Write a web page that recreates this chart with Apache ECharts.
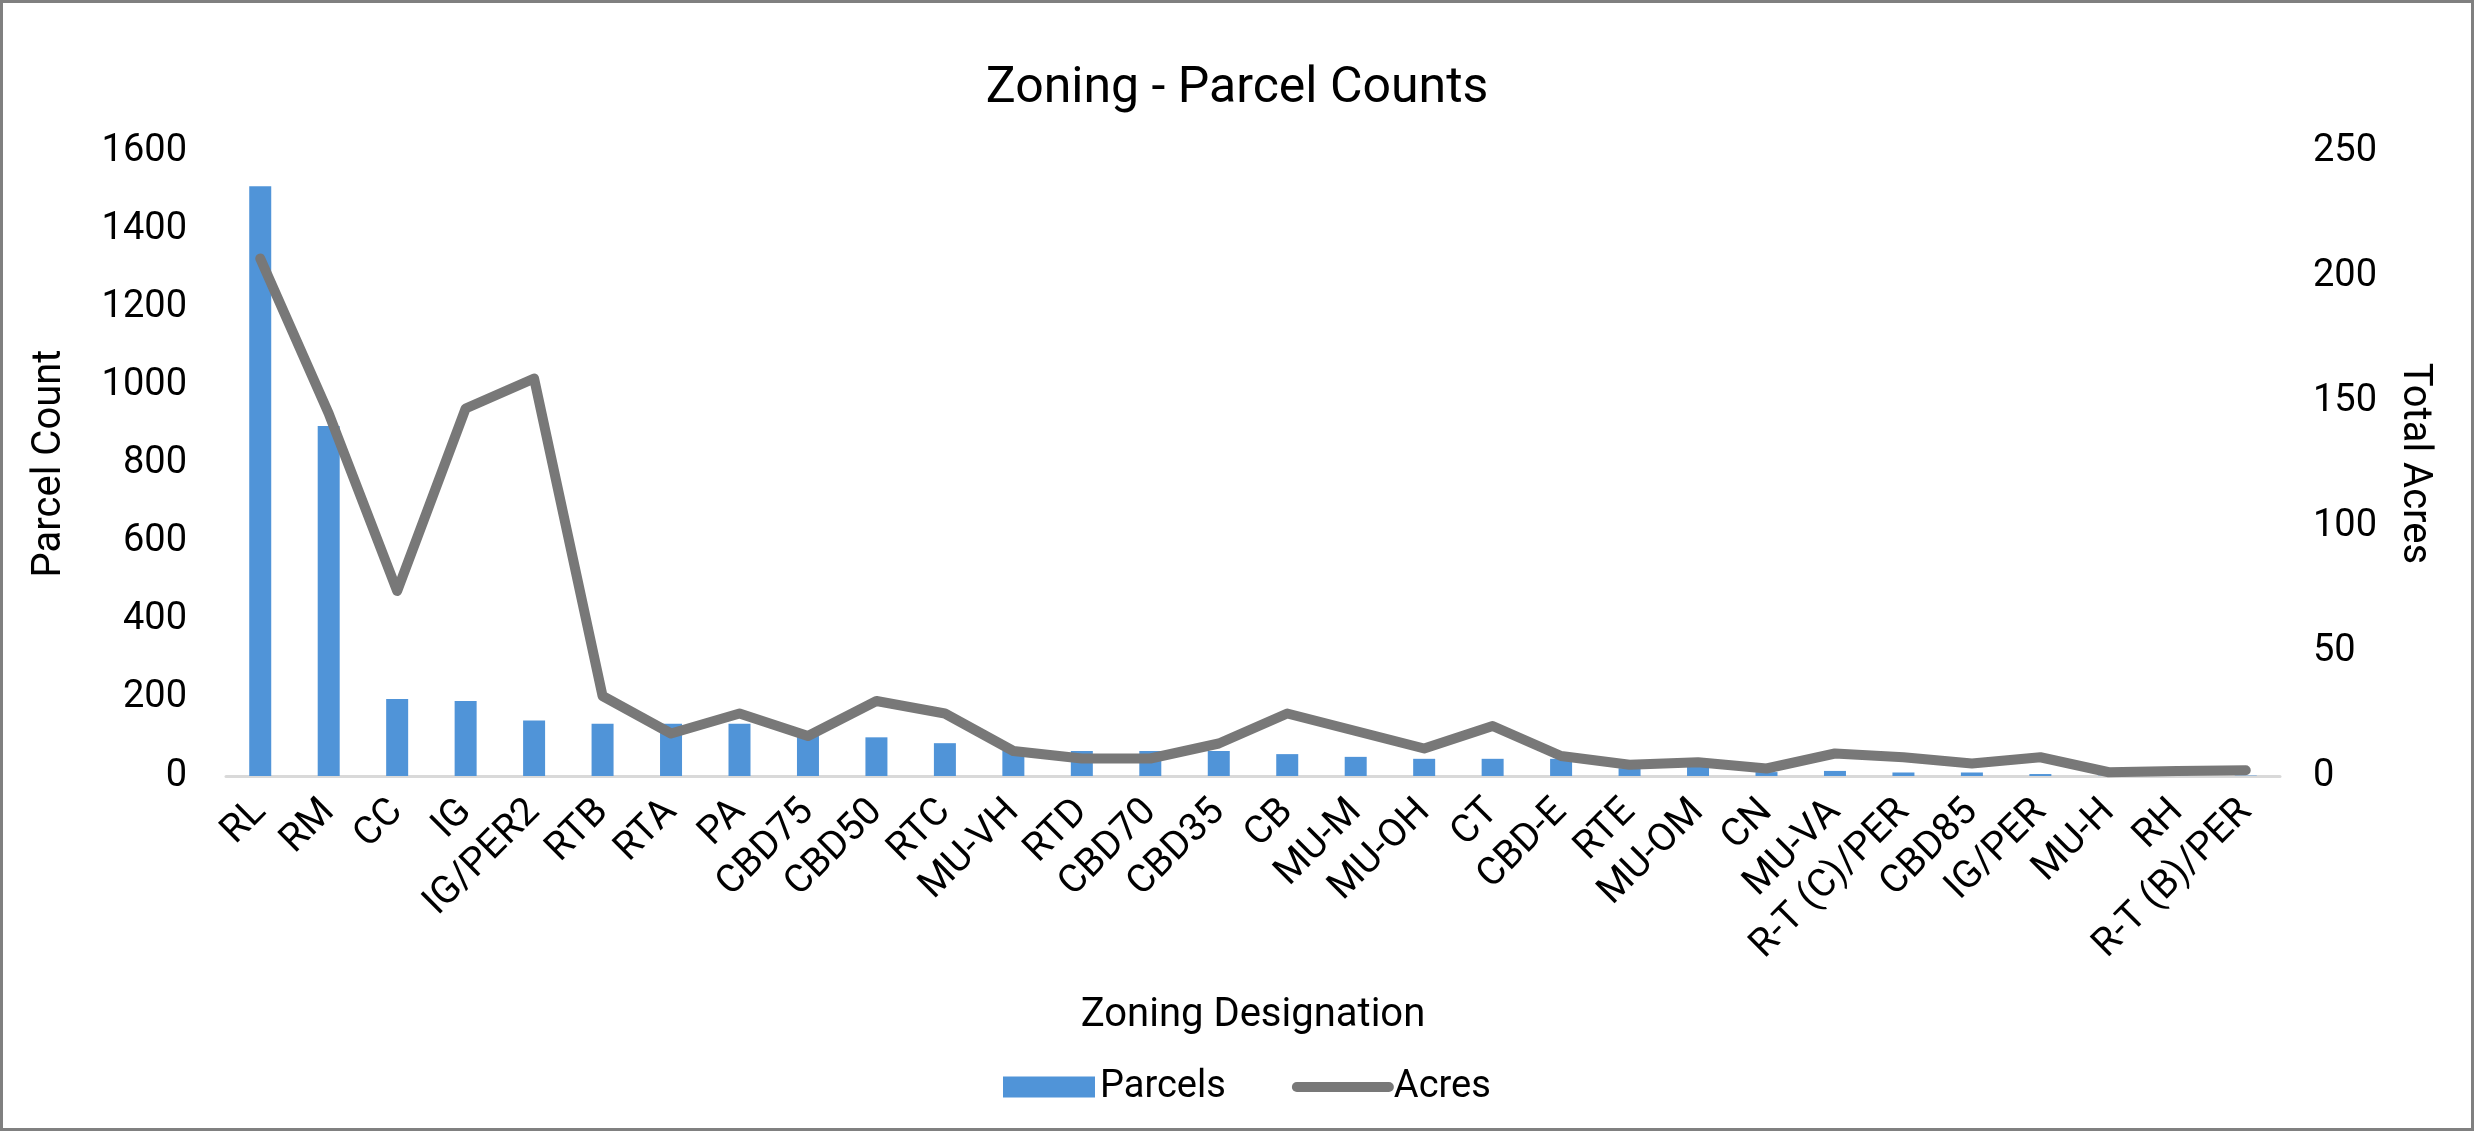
<!DOCTYPE html>
<html>
<head>
<meta charset="utf-8">
<script src="https://cdn.jsdelivr.net/npm/echarts@6/dist/echarts.min.js"></script>
<style>
html,body{margin:0;padding:0;background:#fff;}
#wrap{position:relative;width:2474px;height:1131px;}
#chart{position:absolute;left:0;top:0;width:2474px;height:1131px;}
#frame{position:absolute;left:0;top:0;width:2474px;height:1131px;box-sizing:border-box;border:3px solid #808080;pointer-events:none;}
</style>
</head>
<body>
<div id="wrap"><div id="chart"></div><div id="frame"></div></div>
<script>
const categories = ['RL','RM','CC','IG','IG/PER2','RTB','RTA','PA','CBD75','CBD50','RTC','MU-VH','RTD','CBD70','CBD35','CB','MU-M','MU-OH','CT','CBD-E','RTE','MU-OM','CN','MU-VA','R-T (C)/PER','CBD85','IG/PER','MU-H','RH','R-T (B)/PER'];
const parcels = [1510, 896, 197, 192, 142, 134, 134, 134, 110, 99, 84, 65, 64, 64, 64, 56, 49, 44, 44, 44, 20, 25, 10, 13, 9, 9, 5, 1, 1, 1];
const acres = [207, 145, 74, 147, 159, 32, 17, 25, 16, 30, 25, 10, 7, 7, 13, 25, 18, 11, 20, 8, 4.5, 5.5, 3, 9, 7.5, 5, 7.5, 1.5, 2, 2.3];
const leftTicks = {min: 0, max: 1600, interval: 200};
const rightTicks = {min: 0, max: 250, interval: 50};

const FONT = 'Roboto';
const plain = v => String(v);
const chart = echarts.init(document.getElementById('chart'));
chart.setOption({
  backgroundColor: '#ffffff',
  animation: false,
  title: {
    text: 'Zoning - Parcel Counts',
    left: 'center',
    top: 59,
    textStyle: {fontFamily: FONT, fontSize: 50, fontWeight: 'normal', color: '#000'}
  },
  legend: {
    left: 998,
    top: 1063,
    itemWidth: 92,
    itemHeight: 21,
    itemGap: 66,
    textStyle: {fontFamily: FONT, fontSize: 38, color: '#000'},
    data: [
      {name: 'Parcels', icon: 'rect'},
      {name: 'Acres', lineStyle: {width: 10, cap: 'round', color: '#787878'}, itemStyle: {opacity: 0}}
    ]
  },
  grid: {left: 226, right: 194, top: 151, bottom: 355, containLabel: false, outerBoundsMode: 'none'},
  xAxis: {
    type: 'category',
    data: categories,
    name: 'Zoning Designation',
    nameLocation: 'middle',
    nameGap: 220,
    nameTextStyle: {fontFamily: FONT, fontSize: 40, color: '#000'},
    axisLine: {show: true, lineStyle: {color: '#d9d9d9', width: 3}},
    axisTick: {show: false},
    axisLabel: {interval: 0, rotate: 45, margin: 30, fontFamily: FONT, fontSize: 39, color: '#000'}
  },
  yAxis: [
    {
      type: 'value',
      min: leftTicks.min, max: leftTicks.max, interval: leftTicks.interval,
      name: 'Parcel Count',
      nameLocation: 'middle',
      nameGap: 156,
      nameTextStyle: {fontFamily: FONT, fontSize: 40, color: '#000'},
      axisLine: {show: false},
      axisTick: {show: false},
      splitLine: {show: false},
      axisLabel: {margin: 39, fontFamily: FONT, fontSize: 38, color: '#000', formatter: plain}
    },
    {
      type: 'value',
      min: rightTicks.min, max: rightTicks.max, interval: rightTicks.interval,
      name: 'Total Acres',
      nameLocation: 'middle',
      nameRotate: -90,
      nameGap: 114,
      nameTextStyle: {fontFamily: FONT, fontSize: 40, color: '#000'},
      axisLine: {show: false},
      axisTick: {show: false},
      splitLine: {show: false},
      axisLabel: {margin: 33, fontFamily: FONT, fontSize: 38, color: '#000', formatter: plain}
    }
  ],
  series: [
    {
      name: 'Parcels',
      type: 'bar',
      yAxisIndex: 0,
      data: parcels,
      barWidth: 22,
      itemStyle: {color: '#5094d8'}
    },
    {
      name: 'Acres',
      type: 'line',
      yAxisIndex: 1,
      data: acres,
      symbol: 'none',
      lineStyle: {color: '#787878', width: 10, cap: 'round', join: 'round'},
      itemStyle: {color: '#787878'},
      z: 5
    }
  ]
});
</script>
</body>
</html>
